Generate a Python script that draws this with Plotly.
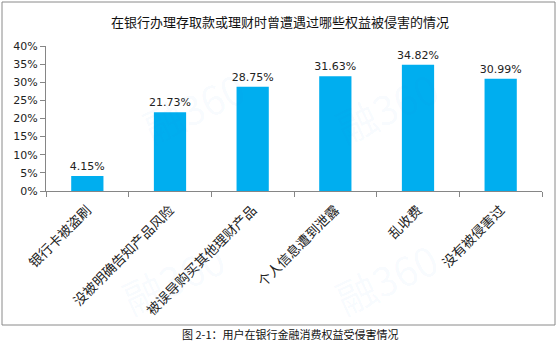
import plotly.graph_objects as go

categories = ["银行卡被盗刷", "没被明确告知产品风险", "被误导购买其他理财产品",
              "个人信息遭到泄露", "乱收费", "没有被侵害过"]
values = [4.15, 21.73, 28.75, 31.63, 34.82, 30.99]
y_ticks = [0, 5, 10, 15, 20, 25, 30, 35, 40]
y_tick_labels = [f"{v}%" for v in y_ticks]
title_text = "在银行办理存取款或理财时曾遭遇过哪些权益被侵害的情况"
caption_text = "图 2-1：用户在银行金融消费权益受侵害情况"

W, H = 559, 351
L, R, T, B = 46, 17, 46, 160
pw, ph = W - L - R, H - T - B

def px(x):
    return (x - L) / pw

def py(y):
    return (H - B - y) / ph

font_cjk = "Noto Sans CJK SC"

fig = go.Figure()
fig.add_trace(go.Bar(
    x=categories, y=values,
    marker=dict(color="#00AEEF", line=dict(width=0)),
    text=[f"{v:.2f}%" for v in values],
    textposition="outside",
    constraintext="none",
    textfont=dict(family="DejaVu Sans, Verdana, sans-serif", size=11, color="#222"),
    cliponaxis=False,
))

shapes = [dict(type="rect", xref="paper", yref="paper",
               x0=px(2), x1=px(555), y0=py(325), y1=py(2),
               line=dict(color="#8a8a8a", width=1), fillcolor="rgba(0,0,0,0)", layer="below")]

annotations = [
    dict(text=title_text, xref="paper", yref="paper", x=px(W / 2), y=py(22),
         showarrow=False, xanchor="center", yanchor="middle",
         font=dict(family=font_cjk, size=13, color="#111")),
    dict(text=caption_text, xref="paper", yref="paper", x=px(290), y=py(334),
         showarrow=False, xanchor="center", yanchor="middle",
         font=dict(family=font_cjk, size=11, color="#111")),
]
# very faint watermarks
for (wx, wy) in [(130, 55), (450, 55), (110, 330), (450, 330)]:
    annotations.append(dict(text="融360", xref="paper", yref="paper", x=px(wx), y=py(wy),
                            showarrow=False, textangle=-25,
                            font=dict(family=font_cjk, size=40, color="rgba(60,140,230,0.045)")))

fig.update_layout(
    width=W, height=H,
    margin=dict(l=L, r=R, t=T, b=B),
    paper_bgcolor="white", plot_bgcolor="white",
    bargap=0.61,
    showlegend=False,
    shapes=shapes,
    annotations=annotations,
    xaxis=dict(
        type="category", tickangle=-45,
        tickfont=dict(family=font_cjk, size=13.5, color="#222"),
        ticklabelstandoff=5,
        showline=True, linecolor="#868686", linewidth=1,
        ticks="outside", tickson="boundaries", ticklen=5, tickcolor="#868686",
        showgrid=False, zeroline=False,
    ),
    yaxis=dict(
        range=[0, 40], tickvals=y_ticks, ticktext=y_tick_labels,
        tickfont=dict(family="DejaVu Sans, Verdana, sans-serif", size=11, color="#222"),
        showline=True, linecolor="#868686", linewidth=1,
        ticks="outside", ticklen=5, tickcolor="#868686",
        showgrid=False, zeroline=False,
    ),
)

fig.write_html("out.html")
